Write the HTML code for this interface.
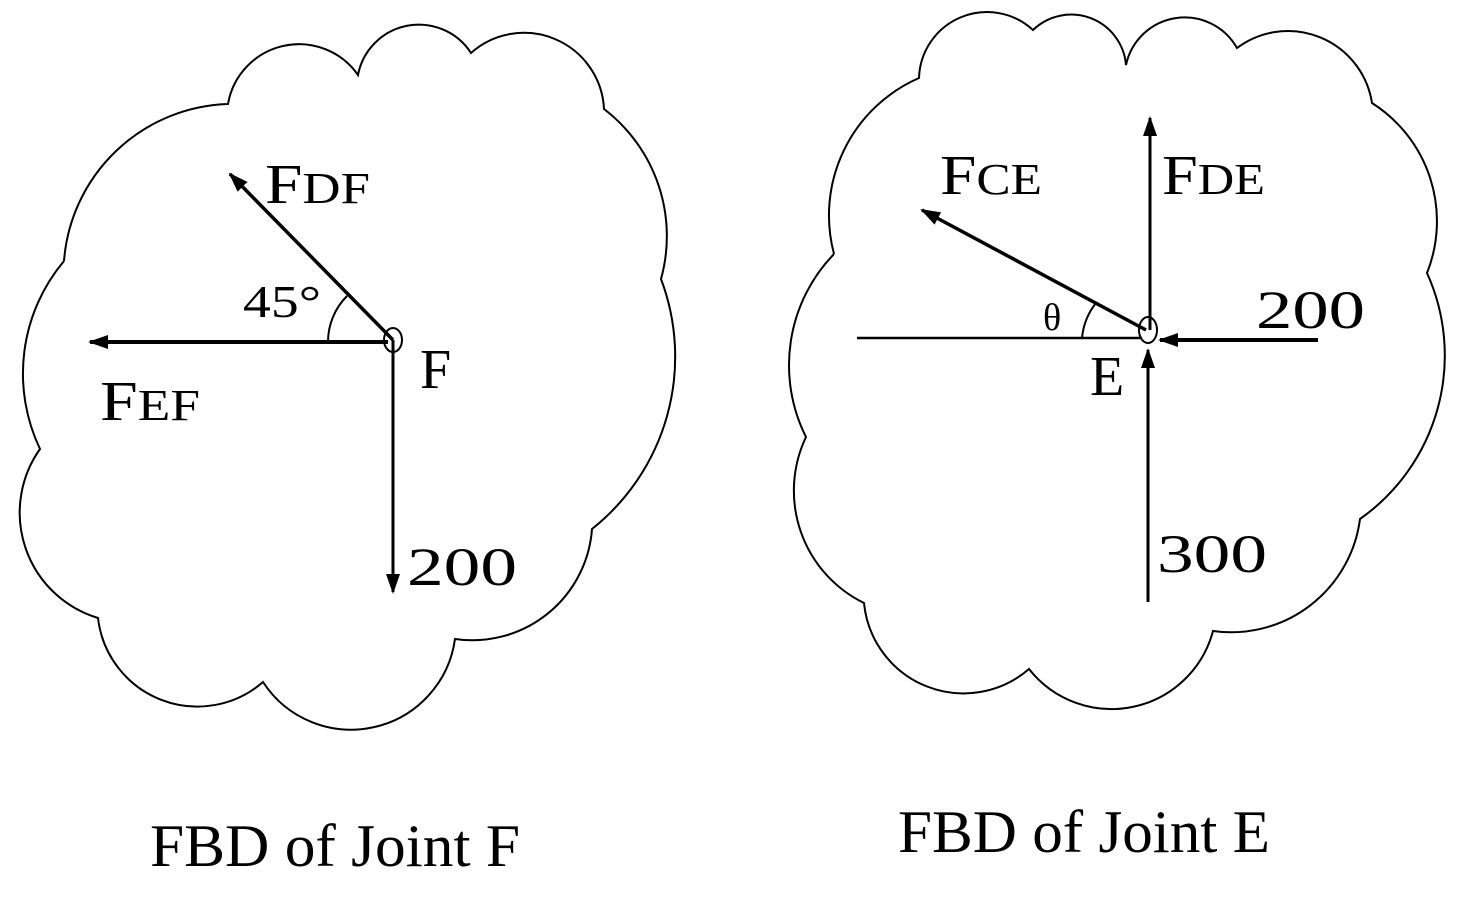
<!DOCTYPE html>
<html><head><style>
html,body{margin:0;padding:0;background:#fff;width:1464px;height:909px;overflow:hidden}
svg{display:block}
text{font-family:"Liberation Serif",serif;fill:#000}
</style></head><body>
<svg width="1464" height="909" viewBox="0 0 1464 909">
<defs>
<marker id="ah2" markerWidth="20" markerHeight="16" refX="18" refY="8" orient="auto" markerUnits="userSpaceOnUse" viewBox="0 0 20 16">
<path d="M0,1 L20,8 L0,15 z" fill="#000"/></marker>
</defs>
<g fill="none" stroke="#000" stroke-width="2">
<path d="M64,261 A170,170 0 0 1 228,104 A72,72 0 0 1 358,75 A62,62 0 0 1 471,53 A80,80 0 0 1 604,109 A160,160 0 0 1 661,279 A220,220 0 0 1 592,529 A120,120 0 0 1 455,639 A105,105 0 0 1 263,682 A100,100 0 0 1 98,618 A110,110 0 0 1 40,449 A175,175 0 0 1 64,261"/>
<path d="M834,254 A150,150 0 0 1 919,78 A68,68 0 0 1 1033,30 A55,55 0 0 1 1126,65 A60,60 0 0 1 1237,48 A85,85 0 0 1 1372,103 A140,140 0 0 1 1427,273 A200,200 0 0 1 1360,519 A130,130 0 0 1 1213,631 A105,105 0 0 1 1029,669 A100,100 0 0 1 864,603 A125,125 0 0 1 806,437 A160,160 0 0 1 834,254"/>
</g>
<g stroke="#000" fill="none">
<line x1="393" y1="340" x2="230" y2="174" stroke-width="3.5" marker-end="url(#ah2)"/>
<line x1="388" y1="342" x2="90" y2="342" stroke-width="4" marker-end="url(#ah2)"/>
<line x1="393" y1="340" x2="393" y2="592" stroke-width="3" marker-end="url(#ah2)"/>
<ellipse cx="393" cy="340" rx="9" ry="12" stroke-width="2"/>
<path d="M328,342 A65,65 0 0 1 347,296" stroke-width="2"/>
<line x1="1150" y1="330" x2="1150" y2="118" stroke-width="3" marker-end="url(#ah2)"/>
<line x1="1146" y1="330" x2="922" y2="210" stroke-width="3.5" marker-end="url(#ah2)"/>
<line x1="857" y1="338" x2="1142" y2="338" stroke-width="2.5"/>
<line x1="1318" y1="340" x2="1160" y2="340" stroke-width="4" marker-end="url(#ah2)"/>
<line x1="1148" y1="602" x2="1148" y2="350" stroke-width="3" marker-end="url(#ah2)"/>
<ellipse cx="1148" cy="330" rx="9" ry="13" stroke-width="2"/>
<path d="M1082,338 A66,66 0 0 1 1096,303" stroke-width="2"/>
</g>
<text x="265" y="203" font-size="56" textLength="105" lengthAdjust="spacingAndGlyphs">F<tspan font-size="44">DF</tspan></text>
<text x="243" y="317" font-size="46" font-family="Liberation Sans, sans-serif" textLength="78" lengthAdjust="spacingAndGlyphs">45°</text>
<text x="100" y="420" font-size="56" textLength="100" lengthAdjust="spacingAndGlyphs">F<tspan font-size="44">EF</tspan></text>
<text x="420" y="388" font-size="56">F</text>
<text x="407" y="585" font-size="54" textLength="110" lengthAdjust="spacingAndGlyphs">200</text>
<text x="940" y="194" font-size="56" textLength="102" lengthAdjust="spacingAndGlyphs">F<tspan font-size="44">CE</tspan></text>
<text x="1162" y="194" font-size="56" textLength="103" lengthAdjust="spacingAndGlyphs">F<tspan font-size="44">DE</tspan></text>
<text x="1043" y="330" font-size="38" font-family="Liberation Sans, sans-serif">θ</text>
<text x="1256" y="328" font-size="54" textLength="109" lengthAdjust="spacingAndGlyphs">200</text>
<text x="1090" y="395" font-size="56">E</text>
<text x="1157" y="572" font-size="54" textLength="110" lengthAdjust="spacingAndGlyphs">300</text>
<text x="150" y="866" font-size="60" textLength="370" lengthAdjust="spacingAndGlyphs">FBD of Joint F</text>
<text x="898" y="852" font-size="60" textLength="372" lengthAdjust="spacingAndGlyphs">FBD of Joint E</text>
</svg>
</body></html>
